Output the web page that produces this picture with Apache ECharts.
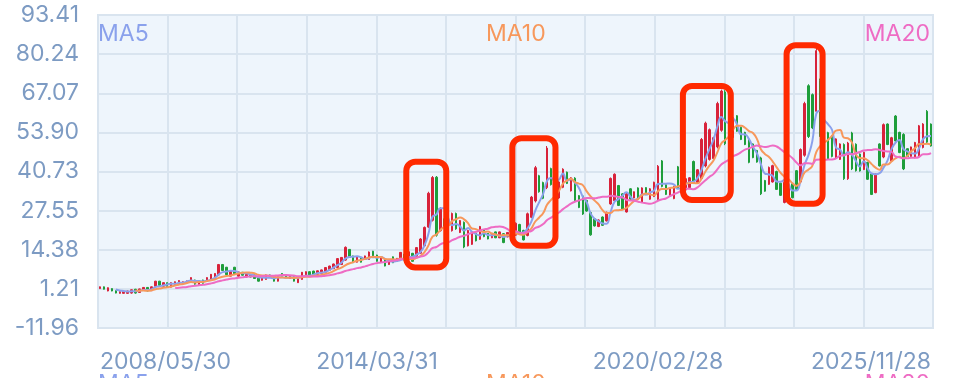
<!DOCTYPE html>
<html>
<head>
<meta charset="utf-8">
<script src="https://cdn.jsdelivr.net/npm/echarts@6/dist/echarts.min.js"></script>
<style>
html,body{margin:0;padding:0;background:#ffffff;}
#chart{width:964px;height:378px;}
</style>
</head>
<body>
<div id="chart"></div>
<script>
// ---------- data ----------
const seriesNames = ['MA5', 'MA10', 'MA20'];
const maPeriods = [5, 10, 20];
const maColors = ['#8aa1ec', '#f7985c', '#ee6cc4'];
const tickLabels = ['2008/05/30', '2014/03/31', '2020/02/28', '2025/11/28'];
const firstMonth = [2008, 5];
const monthCount = 211;
const yMin = -11.96, yMax = 93.41, ySplits = 8;

// [open, close, low, high]
const ohlc = [
[1.3,1.9,1.2,2.0],[1.9,1.1,1.0,2.0],[0.5,1.6,0.4,1.7],[1.3,0.5,0.4,1.4],[0.6,-0.2,-0.3,0.7],
[-0.3,0.3,-0.4,0.4],[-0.3,0.4,-0.4,0.5],[-0.3,0.5,-0.4,0.6],[-0.2,0.9,-0.4,1.0],[1.1,-0.2,-0.4,1.2],
[0.0,1.2,-0.1,1.3],[0.8,1.7,0.7,1.8],[1.7,0.5,0.4,1.8],[0.6,1.9,0.5,2.0],[2.1,3.8,2.0,3.9],
[3.8,2.4,2.3,3.9],[2.1,3.3,2.0,3.4],[3.3,2.0,1.9,3.4],[1.8,3.3,1.7,3.4],[2.7,3.6,2.6,3.7],
[2.7,4.0,2.6,4.1],[3.0,3.6,2.9,3.7],[3.3,3.9,3.2,4.0],[3.8,5.0,3.7,5.1],[4.2,2.8,2.6,4.3],
[2.7,3.9,2.6,4.0],[4.2,3.1,3.0,4.3],[3.8,5.0,3.7,5.1],[4.4,6.1,4.3,6.2],[4.7,6.4,4.6,6.5],
[5.9,9.4,5.7,9.6],[9.4,7.4,7.3,9.6],[8.5,6.0,5.9,8.6],[5.5,7.2,5.4,7.3],[8.5,6.3,6.2,8.6],
[5.5,6.9,5.4,7.0],[6.8,5.8,5.7,6.9],[5.2,6.1,5.1,6.2],[6.1,5.2,5.1,6.2],[5.9,4.7,4.6,6.0],
[5.3,3.8,3.7,5.4],[4.1,5.3,4.0,5.4],[4.4,5.9,4.3,6.0],[5.9,5.0,4.9,6.0],[5.3,3.8,3.7,5.4],
[3.8,5.3,3.7,5.4],[6.4,5.5,5.4,6.5],[5.9,5.0,4.9,6.0],[4.7,5.6,4.6,5.7],[5.3,3.8,3.7,5.4],
[3.3,4.8,3.2,4.9],[4.4,6.8,4.3,6.9],[5.7,7.0,5.6,7.1],[7.0,5.7,5.6,7.1],[7.2,5.7,5.6,7.3],
[6.1,7.3,6.0,7.4],[6.4,7.6,6.3,7.7],[6.8,8.4,6.7,8.5],[7.5,8.9,7.4,9.0],[8.0,9.6,7.9,9.7],
[8.4,11.4,8.2,11.6],[9.4,11.8,9.3,11.9],[10.9,15.2,10.7,15.5],[14.5,11.8,11.6,14.6],[12.3,10.0,9.9,12.4],
[10.2,12.0,10.1,12.1],[11.8,10.2,10.1,11.9],[11.1,12.3,11.0,12.4],[11.1,13.6,11.0,13.8],[13.9,11.7,11.6,14.0],
[12.6,10.5,10.4,12.7],[10.2,11.7,10.1,11.8],[11.2,8.9,8.8,11.3],[9.4,10.7,9.3,10.8],[12.0,10.0,9.9,12.1],
[10.5,11.5,10.4,11.6],[11.1,13.5,11.0,13.6],[12.9,10.9,10.8,13.0],[11.4,13.7,11.3,13.8],[13.2,10.5,10.4,13.3],
[12.2,15.1,12.1,15.3],[13.2,18.0,13.0,18.3],[15.7,21.9,15.5,22.2],[22.0,33.4,21.7,33.9],[24.3,38.7,23.9,39.2],
[38.8,19.3,18.8,39.2],[20.8,28.3,20.5,28.7],[24.8,22.0,21.7,25.0],[20.3,16.9,16.6,20.5],[20.8,26.6,20.5,26.9],
[26.6,21.4,21.1,26.9],[20.2,24.2,20.0,24.4],[23.6,15.3,14.9,23.9],[15.7,20.9,15.5,21.1],[16.2,20.3,16.0,20.5],
[20.0,17.4,17.2,20.2],[17.9,22.2,17.7,22.4],[21.1,18.8,18.6,21.3],[19.9,18.0,17.9,20.0],[18.4,19.9,18.3,20.0],
[20.4,18.4,18.3,20.5],[18.4,20.4,18.3,20.5],[19.8,16.8,16.6,20.0],[18.7,20.2,18.6,20.3],[19.0,20.4,18.9,20.5],
[19.3,23.3,19.1,23.6],[22.9,19.6,19.4,23.1],[20.9,17.7,17.5,21.1],[19.2,26.5,18.9,26.9],[25.3,32.1,25.0,32.5],
[30.8,42.0,30.3,42.6],[39.3,33.9,33.6,39.6],[37.0,31.7,31.4,37.3],[35.3,48.6,34.8,49.3],[41.7,36.3,36.0,42.0],
[30.6,36.5,30.3,36.8],[31.8,37.2,31.5,37.5],[35.4,41.5,35.1,41.8],[40.5,36.7,36.5,40.7],[34.2,38.6,34.0,38.8],
[38.5,30.9,30.6,38.8],[32.6,28.6,28.4,32.8],[32.5,26.4,26.1,32.8],[31.0,27.4,27.2,31.2],[26.9,19.4,19.1,27.2],
[24.8,22.4,22.2,25.0],[22.2,24.4,22.0,24.6],[25.4,22.6,22.4,25.6],[24.1,27.0,23.9,27.2],[29.8,38.4,29.5,38.7],
[30.9,39.8,30.6,40.1],[36.0,29.3,29.1,36.2],[33.2,28.0,27.8,33.4],[27.1,33.2,26.9,33.4],[34.9,31.4,31.2,35.1],
[31.8,33.9,31.7,34.0],[35.2,31.4,31.2,35.4],[30.3,35.2,30.1,35.4],[35.3,32.9,32.8,35.4],[31.4,34.9,31.2,35.1],
[32.3,37.1,32.1,37.3],[31.3,42.5,30.9,42.9],[44.3,35.7,35.4,44.6],[36.3,33.0,32.8,36.5],[32.6,35.0,32.5,35.1],
[31.6,35.7,31.4,35.9],[42.3,35.1,34.8,42.6],[34.2,37.8,34.0,38.0],[34.5,38.3,34.3,38.5],[35.3,38.6,35.1,38.8],
[44.1,36.8,36.5,44.4],[37.0,41.3,36.8,41.5],[38.4,51.5,37.9,52.0],[42.6,57.0,42.1,57.5],[44.8,54.8,44.4,55.2],
[45.1,52.1,44.8,52.4],[49.0,63.6,48.5,64.2],[54.6,67.8,54.1,68.3],[67.5,50.1,49.6,68.1],[60.5,51.6,51.3,60.8],
[52.2,58.8,51.9,59.1],[59.5,54.3,54.1,59.7],[55.6,51.5,51.3,55.8],[53.9,49.8,49.6,54.1],[51.6,43.8,43.5,51.9],
[50.0,45.4,45.2,50.2],[47.8,43.9,43.7,48.0],[45.3,33.2,32.8,45.7],[37.7,34.1,33.9,37.9],[36.4,42.1,36.2,42.4],
[37.2,42.7,37.0,43.0],[40.7,34.7,34.5,41.0],[36.8,32.7,32.5,37.0],[30.3,37.0,30.0,37.3],[30.3,35.4,30.1,35.6],
[36.6,31.9,31.7,36.8],[41.0,34.7,34.5,41.2],[37.2,48.1,36.8,48.5],[46.2,63.6,45.7,64.2],[69.6,52.5,52.0,70.1],
[66.6,55.4,55.0,67.0],[61.0,81.4,60.3,82.1],[71.4,53.0,52.4,72.0],[57.7,48.3,48.0,58.0],[53.8,44.9,44.6,54.1],
[52.7,45.8,45.5,53.0],[45.4,51.7,45.2,51.9],[44.8,50.0,44.6,50.2],[49.8,38.3,37.9,50.2],[38.3,50.3,37.9,50.7],
[53.7,41.6,41.2,54.1],[49.9,41.0,40.7,50.2],[46.6,40.9,40.7,46.8],[41.4,47.2,41.2,47.4],[43.8,38.1,37.9,44.0],
[39.9,33.0,32.8,40.1],[33.6,39.9,33.4,40.1],[50.0,42.6,42.4,50.2],[45.6,56.5,45.2,56.9],[56.7,49.8,49.6,56.9],
[44.3,52.1,44.0,52.4],[59.4,51.0,50.7,59.7],[53.9,47.1,46.9,54.1],[53.2,41.6,41.2,53.6],[48.4,45.8,45.7,48.5],
[45.8,49.0,45.7,49.1],[45.4,50.5,45.2,50.7],[46.0,56.1,45.7,56.4],[48.8,56.7,48.5,57.0],[61.0,50.6,50.2,61.4],
[56.7,49.3,49.1,56.9]
];

// highlighted runs: [fromIndex, toIndex, lowValue, highValue]
const highlightBoxes = [
  [77.4, 87.5, 8.4, 44.0],
  [104.2, 115.1, 15.7, 51.9],
  [147.3, 159.4, 31.1, 69.5],
  [173.5, 182.6, 29.9, 83.2]
];

// ---------- derived ----------
const dates = [];
for (let k = 0; k < monthCount; k++) {
  const mIdx = firstMonth[1] - 1 + k;
  const y = firstMonth[0] + Math.floor(mIdx / 12);
  const m = mIdx % 12;
  const d = new Date(Date.UTC(y, m + 1, 0));
  while (d.getUTCDay() === 0 || d.getUTCDay() === 6) d.setUTCDate(d.getUTCDate() - 1);
  dates.push(y + '/' + String(m + 1).padStart(2, '0') + '/' + String(d.getUTCDate()).padStart(2, '0'));
}

function movingAverage(n) {
  return ohlc.map((row, i) => {
    if (i < n - 1) return '-';
    let s = 0;
    for (let j = i - n + 1; j <= i; j++) s += ohlc[j][1];
    return +(s / n).toFixed(3);
  });
}

const FONT = 'Inter';
const AXIS_COLOR = '#7d9bc3';
const GRID_LINE = '#d9e4ef';

function legendAt(idx, pos) {
  const base = {
    data: [seriesNames[idx]],
    icon: 'circle', itemWidth: 0, itemHeight: 0, itemGap: 0,
    padding: 0, selectedMode: false,
    textStyle: { color: maColors[idx], fontSize: 23, fontFamily: FONT }
  };
  return Object.assign(base, pos);
}

const option = {
  animation: false,
  backgroundColor: '#ffffff',
  legend: [
    legendAt(0, { left: 93, top: 23 }),
    legendAt(1, { left: 481, top: 23 }),
    legendAt(2, { right: 34, top: 23 }),
    legendAt(0, { left: 93, top: 373 }),
    legendAt(1, { left: 481, top: 373 }),
    legendAt(2, { right: 34, top: 373 })
  ],
  grid: {
    left: 98, right: 31, top: 15, bottom: 50,
    show: true, backgroundColor: '#eef5fc', borderColor: GRID_LINE, borderWidth: 2
  },
  xAxis: [
    {
      type: 'category', data: dates, boundaryGap: true,
      axisLine: { show: false }, axisTick: { show: false }, splitLine: { show: false },
      axisLabel: {
        interval: (i) => tickLabels.includes(dates[i]),
        alignMinLabel: 'left', alignMaxLabel: 'right',
        color: AXIS_COLOR, fontSize: 23, fontFamily: FONT, margin: 23
      }
    },
    {
      type: 'value', min: 0, max: 12, interval: 1,
      axisLine: { show: false }, axisTick: { show: false }, axisLabel: { show: false },
      splitLine: { show: true, lineStyle: { color: GRID_LINE, width: 2 } }
    }
  ],
  yAxis: {
    type: 'value', min: yMin, max: yMax, interval: (yMax - yMin) / ySplits,
    axisLine: { show: false }, axisTick: { show: false },
    splitLine: { show: true, lineStyle: { color: GRID_LINE, width: 2 } },
    axisLabel: {
      color: AXIS_COLOR, fontSize: 23, fontFamily: FONT, margin: 19,
      formatter: (v) => (Math.round(v * 100 + 1e-6) / 100).toFixed(2)
    }
  },
  series: [
    {
      name: 'K', type: 'candlestick', data: ohlc, xAxisIndex: 0,
      itemStyle: { color: '#d8223a', color0: '#1e9e3b', borderColor: '#d8223a', borderColor0: '#1e9e3b', borderWidth: 1 }
    }
  ].concat(seriesNames.map((name, k) => ({
    name: name, type: 'line', xAxisIndex: 0, data: movingAverage(maPeriods[k]),
    smooth: true, showSymbol: false, symbol: 'none',
    lineStyle: { color: maColors[k], width: 2 }, itemStyle: { color: maColors[k] },
    z: 3
  })))
};

const chart = echarts.init(document.getElementById('chart'));
chart.setOption(option);

function boxGraphics() {
  const p0 = chart.convertToPixel({ xAxisIndex: 0 }, 0);
  const p1 = chart.convertToPixel({ xAxisIndex: 0 }, 1);
  const step = p1 - p0;
  return highlightBoxes.map(([a, b, lo, hi]) => {
    const x1 = p0 + a * step, x2 = p0 + b * step;
    const yTop = chart.convertToPixel({ yAxisIndex: 0 }, hi);
    const yBot = chart.convertToPixel({ yAxisIndex: 0 }, lo);
    return {
      type: 'rect', z: 100,
      shape: { x: x1, y: yTop, width: x2 - x1, height: yBot - yTop, r: 9 },
      style: { fill: 'none', stroke: '#ff2a00', lineWidth: 6 }
    };
  });
}
chart.setOption({ graphic: boxGraphics() });
</script>
</body>
</html>
